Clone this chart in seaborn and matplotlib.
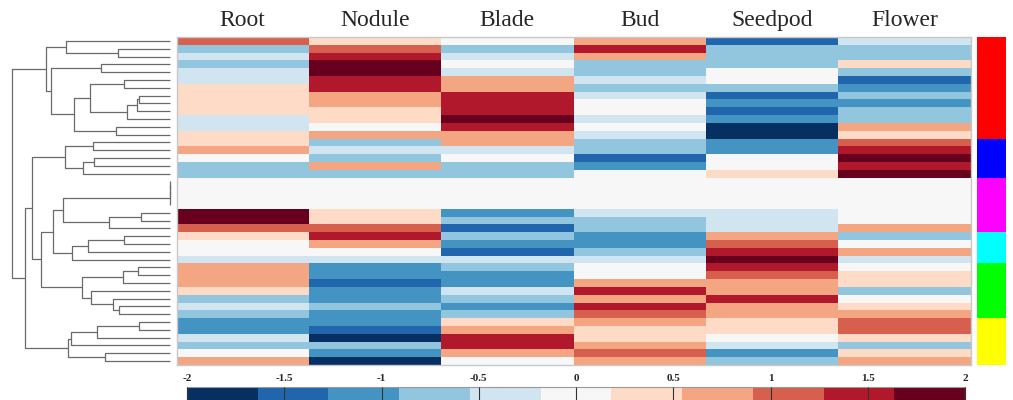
import numpy as np
import pandas as pd
import matplotlib
matplotlib.use("Agg")
import matplotlib.pyplot as plt
import seaborn as sns
from matplotlib.colors import ListedColormap

# ---------------- data ----------------
tissues = ["Root", "Nodule", "Blade", "Bud", "Seedpod", "Flower"]

root = [1.1, -0.7, -0.35, -0.7, -0.35, -0.35, 0.35, 0.35, 0.35, 0.35, -0.35, -0.35, 0.35, 0.35, 0.7, 0, -0.7, -0.7,
        0, 0, 0, 0,
        1.8, 1.8, 1.1, 0.35, 0, 0, -0.35, 0.7, 0.7, 0.7, 0.35, -0.7, -0.35, -0.7, -1.1, -1.1, -0.35, -0.7, 0, 0.7]
nodule = [0.35, 1.1, 1.45, 1.8, 1.8, 1.45, 1.45, 0.7, 0.7, 0.35, 0.35, 0, 0.7, -0.7, -0.35, -0.7, 0.7, -0.7,
          0, 0, 0, 0,
          0.35, 0.35, 1.1, 1.45, 0.7, 0, -0.35, -1.1, -1.1, -1.45, -1.1, -1.1, -0.7, -1.1, -1.1, -1.45, -1.8, -0.7, -1.1, -1.8]
blade = [0, -0.7, -0.35, 0, -0.35, 0.7, 0.7, 1.45, 1.45, 1.45, 1.8, 1.45, 0.7, 0.7, -0.35, 0, -0.7, -0.7,
         0, 0, 0, 0,
         -1.1, -0.7, -1.45, -0.7, -1.1, -1.45, -0.35, -0.7, -1.1, -1.1, -0.35, -0.7, -1.1, -0.7, 0.35, 0.7, 1.45, 1.45, 0.7, 0]
bud = [0.7, 1.45, 0.7, -0.7, -0.7, -0.35, -0.7, -0.35, 0, 0, -0.35, 0, -0.35, -0.7, -0.7, -1.45, -1.1, 0,
       0, 0, 0, 0,
       -0.35, -0.7, -0.7, -1.1, -1.1, -0.7, -0.35, 0, 0, 0.7, 1.45, 0.7, 1.45, 1.1, 0.7, 0.35, 0.35, 0.7, 1.1, 0.7]
seedpod = [-1.45, -0.7, -0.7, -0.7, 0, 0, -0.7, -1.45, -1.1, -1.45, -1.1, -1.8, -1.8, -1.1, -1.1, 0, 0, 0.35,
           0, 0, 0, 0,
           -0.35, -0.35, -0.35, 0.7, 1.1, 1.45, 1.8, 1.45, 1.1, 0.7, 0.7, 1.45, 0.7, 0.7, 0.35, 0.35, 0, -0.35, -1.1, -0.7]
flower = [-0.35, -0.7, -0.7, 0.35, -0.7, -1.45, -1.1, -0.7, -1.1, -0.7, -0.7, 0.7, 0.35, 1.1, 1.45, 1.8, 1.45, 1.8,
          0, 0, 0, 0,
          0, 0, 0.7, -0.7, 0, 0.7, -0.35, 0, 0.35, 0.35, -0.7, 0, 0.35, 0.7, 1.1, 1.1, 0.35, -0.7, 0.35, 0.7]

group_sizes = [13, 5, 7, 4, 7, 6]
group_colors = ["#ff0000", "#0000ff", "#ff00ff", "#00ffff", "#00ff00", "#ffff00"]

# row dendrogram: (left child, right child, merge height); ids >= 42 are earlier merges
linkage = [
    (1, 2, 51.7), (0, 42, 104.3), (3, 4, 69.3), (5, 6, 46.0), (7, 8, 30.7),
    (46, 9, 33.3), (47, 10, 43.3), (45, 48, 79.7), (11, 12, 54.0), (49, 50, 96.0),
    (44, 51, 119.3), (43, 52, 124.3), (13, 14, 77.3), (15, 16, 75.7), (55, 17, 87.3),
    (54, 56, 105.3), (18, 19, 0.0), (58, 20, 0.0), (59, 21, 0.0), (22, 23, 29.3),
    (61, 24, 61.3), (60, 62, 106.7), (25, 26, 45.7), (64, 27, 81.7), (65, 28, 97.7),
    (63, 66, 116.7), (29, 30, 31.7), (68, 31, 46.7), (34, 35, 50.7), (33, 70, 56.7),
    (32, 71, 79.3), (69, 72, 87.7), (67, 73, 128.7), (57, 74, 137.7), (36, 37, 30.7),
    (76, 38, 73.3), (77, 39, 98.7), (40, 41, 65.0), (78, 79, 101.7), (75, 80, 145.0),
    (53, 81, 158.3),
]

level_colors = ["#053061", "#2166ac", "#4393c3", "#92c5de", "#d1e5f0", "#f7f7f7",
                "#fddbc7", "#f4a582", "#d6604d", "#b2182b", "#67001f"]
cbar_ticks = [-2, -1.5, -1, -0.5, 0, 0.5, 1, 1.5, 2]
cbar_labels = ["-2", "-1.5", "-1", "-0.5", "0", "0.5", "1", "1.5", "2"]

# ---------------- figure ----------------
sns.set_theme(style="white")
plt.rcParams["font.family"] = ["Liberation Serif", "DejaVu Serif"]

W, H = 1013, 400
fig = plt.figure(figsize=(W / 100, H / 100), dpi=100)


def box(x0, y0, x1, y1):
    return [x0 / W, 1 - y1 / H, (x1 - x0) / W, (y1 - y0) / H]


ax_h = fig.add_axes(box(176.5, 37, 970.5, 365))
ax_d = fig.add_axes(box(0, 37, 176.5, 365))
ax_g = fig.add_axes(box(977, 37, 1006, 365))
cax = fig.add_axes(box(187, 387, 965, 404))

df = pd.DataFrame({"Root": root, "Nodule": nodule, "Blade": blade,
                   "Bud": bud, "Seedpod": seedpod, "Flower": flower}, columns=tissues)
n_rows = len(df)

sns.heatmap(df, ax=ax_h, cmap=ListedColormap(level_colors), vmin=-2, vmax=2,
            cbar_ax=cax, cbar_kws={"orientation": "horizontal", "ticks": cbar_ticks},
            yticklabels=False)
ax_h.xaxis.tick_top()
ax_h.set_xticklabels(tissues, rotation=0, fontsize=17)
ax_h.tick_params(axis="x", length=0, pad=4)
ax_h.set_ylabel("")
for s in ax_h.spines.values():
    s.set_visible(True)
    s.set_color("#c8c8c8")
    s.set_linewidth(1)

cbar = ax_h.collections[0].colorbar
cbar.set_ticks(cbar_ticks)
cbar.set_ticklabels(cbar_labels)
cax.xaxis.set_ticks_position("top")
cax.xaxis.set_label_position("top")
cax.tick_params(axis="x", which="major", top=True, bottom=False, labeltop=True,
                labelbottom=False, direction="in", length=9, width=0.8,
                color="#333333", labelsize=8, pad=3)
cax.set_axisbelow(False)
for t in cax.get_xticklabels():
    t.set_fontweight("bold")
cbar.outline.set_visible(True)
cbar.outline.set_edgecolor("#999999")
cbar.outline.set_linewidth(0.8)

# group colour strip
group_idx = np.repeat(np.arange(len(group_sizes)), group_sizes)
gdf = pd.DataFrame({"group": group_idx})
sns.heatmap(gdf, ax=ax_g, cmap=ListedColormap(group_colors), vmin=-0.5,
            vmax=len(group_sizes) - 0.5, cbar=False, xticklabels=False, yticklabels=False)

# dendrogram
pos = {i: i + 0.5 for i in range(n_rows)}
hgt = {i: 0.0 for i in range(n_rows)}
for k, (a, b, h) in enumerate(linkage):
    nid = n_rows + k
    ax_d.plot([hgt[a], h, h, hgt[b]], [pos[a], pos[a], pos[b], pos[b]],
              color="#6a6a6a", lw=0.9, solid_capstyle="butt")
    pos[nid] = (pos[a] + pos[b]) / 2
    hgt[nid] = h

hmax = max(h for _, _, h in linkage)
px_per = (170 - 11.7) / hmax
left = 170 / px_per
ax_d.set_xlim(left, left - 176.5 / px_per)
ax_d.set_ylim(n_rows, 0)
ax_d.axis("off")

fig.savefig("out.png", dpi=100)
